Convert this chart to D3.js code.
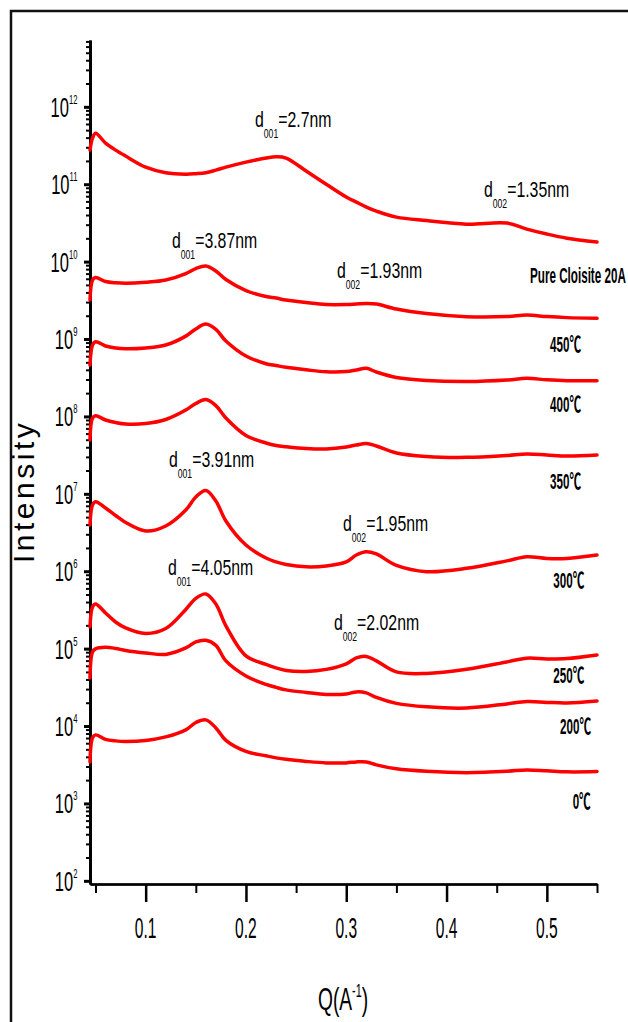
<!DOCTYPE html>
<html>
<head>
<meta charset="utf-8">
<script src="https://cdn.jsdelivr.net/npm/d3@7"></script>
<style>
  html, body { margin: 0; padding: 0; background: #fff; }
  svg { display: block; }
  text { font-family: "Liberation Sans", Arial, "Noto Sans CJK SC", sans-serif; fill: #000; }
</style>
</head>
<body>
<svg id="chart" width="628" height="1022"></svg>
<script>
// Scattering vector Q (A^-1), shared by every pattern
const q = [0.0445, 0.047, 0.05, 0.06, 0.07, 0.08, 0.10, 0.12, 0.14, 0.15, 0.16, 0.17, 0.18,
           0.20, 0.22, 0.23, 0.24, 0.26, 0.28, 0.30, 0.31, 0.32, 0.33, 0.35, 0.38, 0.42,
           0.46, 0.48, 0.50, 0.52, 0.55];

// Intensity of each pattern (curves are offset vertically for clarity)
const iPure = [2.76e11, 3.94e11, 4.57e11, 3.40e11, 2.76e11, 2.31e11, 1.66e11, 1.41e11, 1.35e11, 1.37e11,
               1.41e11, 1.52e11, 1.66e11, 1.93e11, 2.18e11, 2.26e11, 2.18e11, 1.48e11, 1.00e11, 6.82e10,
               5.87e10, 5.07e10, 4.50e10, 3.76e10, 3.39e10, 3.05e10, 3.15e10, 2.63e10, 2.27e10, 2.01e10, 1.79e10];
const i450 = [3.19e9, 5.78e9, 6.22e9, 5.53e9, 5.32e9, 5.25e9, 5.40e9, 5.78e9, 7.01e9, 8.14e9,
              8.77e9, 7.55e9, 5.87e9, 4.23e9, 3.54e9, 3.38e9, 3.19e9, 2.96e9, 2.79e9, 2.79e9,
              2.83e9, 2.87e9, 2.83e9, 2.44e9, 2.13e9, 1.94e9, 1.95e9, 2.04e9, 1.95e9, 1.89e9, 1.85e9];
const i400 = [4.61e8, 8.36e8, 9.23e8, 8.12e8, 7.65e8, 7.47e8, 7.65e8, 8.36e8, 1.09e9, 1.35e9,
              1.56e9, 1.33e9, 9.42e8, 6.03e8, 4.80e8, 4.55e8, 4.31e8, 4.00e8, 3.77e8, 3.80e8,
              3.98e8, 4.18e8, 3.75e8, 3.18e8, 2.91e8, 2.82e8, 2.95e8, 3.11e8, 2.97e8, 2.89e8, 2.89e8];
const i350 = [4.96e7, 9.54e7, 1.02e8, 8.99e7, 8.35e7, 7.98e7, 8.10e7, 9.13e7, 1.21e8, 1.47e8,
              1.65e8, 1.38e8, 9.54e7, 5.67e7, 4.54e7, 4.21e7, 4.06e7, 3.85e7, 3.80e7, 4.03e7,
              4.27e7, 4.47e7, 4.15e7, 3.37e7, 3.04e7, 2.96e7, 3.13e7, 3.27e7, 3.18e7, 3.08e7, 3.18e7];
const i300 = [3.96e6, 7.18e6, 7.92e6, 6.56e6, 5.25e6, 4.27e6, 3.31e6, 3.84e6, 6.18e6, 9.11e6,
              1.105e7, 8.08e6, 4.46e6, 2.18e6, 1.48e6, 1.32e6, 1.22e6, 1.14e6, 1.17e6, 1.32e6,
              1.62e6, 1.79e6, 1.67e6, 1.19e6, 9.88e5, 1.09e6, 1.36e6, 1.54e6, 1.46e6, 1.46e6, 1.62e6];
const i250 = [1.91e5, 3.46e5, 3.78e5, 2.89e5, 2.21e5, 1.85e5, 1.57e5, 1.82e5, 3.21e5, 4.45e5,
              5.09e5, 3.78e5, 1.97e5, 8.05e4, 6.25e4, 5.64e4, 5.23e4, 5.08e4, 5.39e4, 6.35e4,
              7.59e4, 7.93e4, 6.94e4, 5.00e4, 4.78e4, 5.42e4, 6.73e4, 7.52e4, 7.36e4, 7.45e4, 8.29e4];
const i200 = [4.18e4, 9.07e4, 9.91e4, 1.04e5, 1.006e5, 9.48e4, 8.80e4, 8.42e4, 1.02e5, 1.22e5,
              1.28e5, 1.10e5, 6.94e4, 4.44e4, 3.45e4, 3.16e4, 2.93e4, 2.72e4, 2.56e4, 2.60e4,
              2.76e4, 2.68e4, 2.34e4, 1.96e4, 1.77e4, 1.71e4, 1.93e4, 2.07e4, 2.02e4, 1.99e4, 2.11e4];
const i0 = [3.44e3, 7.03e3, 7.68e3, 6.72e3, 6.43e3, 6.33e3, 6.52e3, 7.24e3, 8.92e3, 1.11e4,
            1.20e4, 9.46e3, 6.52e3, 4.70e3, 4.12e3, 3.88e3, 3.71e3, 3.49e3, 3.34e3, 3.34e3,
            3.44e3, 3.44e3, 3.15e3, 2.80e3, 2.60e3, 2.50e3, 2.60e3, 2.71e3, 2.64e3, 2.56e3, 2.58e3];

// Curve names and where each name sits (data units: Q, intensity at text baseline)
const seriesNames = ["Pure Cloisite 20A", "450℃", "400℃", "350℃", "300℃", "250℃", "200℃", "0℃"];
const nameQ = [0.4832, 0.5031, 0.5031, 0.5031, 0.5064, 0.5064, 0.5131, 0.5257];
const nameI = [5.33e9, 6.85e8, 1.15e8, 1.15e7, 6.03e5, 3.64e4, 7.85e3, 8.43e2];

// Basal spacing annotations
const peakIndex = ["001", "002", "001", "002", "001", "001", "002", "002"];
const peakText  = ["=2.7nm", "=1.35nm", "=3.87nm", "=1.93nm", "=3.91nm", "=4.05nm", "=1.95nm", "=2.02nm"];
const peakQ     = [0.209, 0.4373, 0.1262, 0.2907, 0.1232, 0.1222, 0.2967, 0.2877];
const peakI     = [5.47e11, 6.82e10, 1.50e10, 6.13e9, 2.19e7, 8.95e5, 3.31e6, 1.75e5];

// Axis ticks
const xMajor = [0.1, 0.2, 0.3, 0.4, 0.5];
const xMinor = [0.05, 0.15, 0.25, 0.35, 0.45, 0.55];
const yExponents = [2, 3, 4, 5, 6, 7, 8, 9, 10, 11, 12];

const allSeries = [iPure, i450, i400, i350, i300, i250, i200, i0];

const svg = d3.select("#chart");

const x = d3.scaleLinear().domain([0.0445, 0.55]).range([90, 597]);
const y = d3.scaleLog().domain([91, 7.3e12]).range([884, 40]);

// Outer frame
svg.append("path")
  .attr("d", "M11,1022 V11 H628")
  .attr("fill", "none")
  .attr("stroke", "#111")
  .attr("stroke-width", 2.5);

// Minor log ticks 2..9 in every decade inside the domain
const yMinor = [];
for (let e = 1; e <= 12; e++) {
  for (let m = 2; m <= 9; m++) {
    const v = m * Math.pow(10, e);
    if (v >= y.domain()[0] && v <= y.domain()[1]) yMinor.push(v);
  }
}
const yMajor = yExponents.map(e => Math.pow(10, e));

function styleAxis(g, w) {
  g.selectAll("path, line").attr("stroke", "#000").attr("stroke-width", w);
  g.selectAll("text").remove();
}

// Y axis
svg.append("g").attr("transform", "translate(90,0)")
  .call(d3.axisLeft(y).tickValues(yMinor).tickSize(4).tickSizeOuter(0).tickFormat(""))
  .call(g => styleAxis(g, 2));
svg.append("g").attr("transform", "translate(90,0)")
  .call(d3.axisLeft(y).tickValues(yMajor).tickSize(6).tickSizeOuter(0).tickFormat(""))
  .call(g => styleAxis(g, 3));

// X axis
svg.append("g").attr("transform", "translate(0,884)")
  .call(d3.axisBottom(x).tickValues(xMinor).tickSize(9).tickSizeOuter(0).tickFormat(""))
  .call(g => styleAxis(g, 2));
svg.append("g").attr("transform", "translate(0,884)")
  .call(d3.axisBottom(x).tickValues(xMajor).tickSize(18).tickSizeOuter(0).tickFormat(""))
  .call(g => styleAxis(g, 2.5));

// Condensed text helper
function label(px, py, sx, anchor) {
  return svg.append("text")
    .attr("transform", `translate(${px},${py}) scale(${sx},1)`)
    .attr("text-anchor", anchor || "start");
}

// X tick labels
xMajor.forEach(v => {
  label(x(v), 938, 0.52, "middle").attr("font-size", 30).text(d3.format(".1f")(v));
});

// Y tick labels: 10^n
yExponents.forEach(e => {
  const t = label(77.5, y(Math.pow(10, e)) + 10, 0.59, "end").attr("font-size", 28);
  t.append("tspan").text("10");
  t.append("tspan").attr("font-size", 13).attr("dy", -13).text(e);
});

// Axis titles
const xt = label(318, 1010, 0.6, "start").attr("font-size", 32);
xt.append("tspan").text("Q(A");
xt.append("tspan").attr("font-size", 18).attr("dy", -13).text("-1");
xt.append("tspan").attr("dy", 13).text(")");

svg.append("text")
  .attr("transform", "translate(34,563) rotate(-90)")
  .attr("font-size", 30)
  .attr("letter-spacing", 3.5)
  .text("Intensity");

// Curves
const line = d3.line()
  .x((d, i) => x(q[i]))
  .y(d => y(d))
  .curve(d3.curveCatmullRom.alpha(0.5));

svg.append("g").selectAll("path")
  .data(allSeries)
  .join("path")
  .attr("d", line)
  .attr("fill", "none")
  .attr("stroke", "#ff0000")
  .attr("stroke-width", 3.5)
  .attr("stroke-linejoin", "round")
  .attr("stroke-linecap", "round");

// Curve names
seriesNames.forEach((name, i) => {
  label(x(nameQ[i]), y(nameI[i]), 0.53, "start")
    .attr("font-size", 22)
    .attr("font-weight", "bold")
    .text(name);
});

// d-spacing annotations
peakText.forEach((txt, i) => {
  const t = label(x(peakQ[i]), y(peakI[i]), 0.72, "start").attr("font-size", 22);
  t.append("tspan").text("d");
  t.append("tspan").attr("font-size", 12).attr("dy", 11).text(peakIndex[i]);
  t.append("tspan").attr("dy", -11).text(txt);
});
</script>
</body>
</html>
